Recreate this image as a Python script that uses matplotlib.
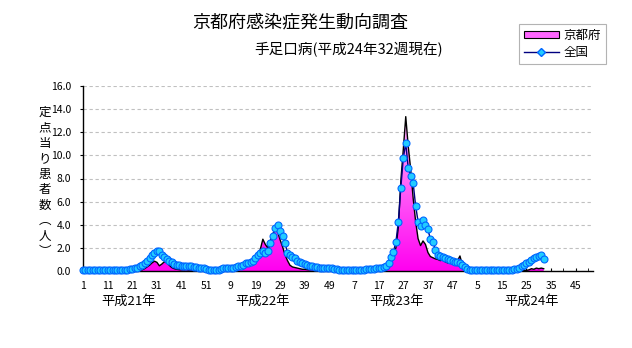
import numpy as np
import matplotlib.pyplot as plt
from matplotlib.colors import LinearSegmentedColormap
from matplotlib.lines import Line2D
from matplotlib.patches import Patch
from matplotlib.transforms import blended_transform_factory

# 京都府 (weekly, per sentinel)
kyoto_h21 = [0.02, 0.03, 0.02, 0.0, 0.03, 0.0, 0.02, 0.0, 0.0, 0.03, 0.02, 0.0, 0.03,
             0.05, 0.03, 0.02, 0.05, 0.03, 0.05, 0.05, 0.03, 0.05, 0.08, 0.1,
             0.1, 0.2, 0.35, 0.5, 0.7, 0.85, 0.75, 0.45, 0.6, 0.8, 0.7, 0.5, 0.3, 0.2, 0.15, 0.12,
             0.1, 0.1, 0.12, 0.08, 0.1, 0.1, 0.08, 0.1, 0.05, 0.08, 0.05, 0.05]
kyoto_h22 = [0.05, 0.03, 0.05, 0.05, 0.08, 0.05,
             0.1, 0.15, 0.2, 0.25, 0.3, 0.35, 0.4, 0.5, 0.6, 0.7, 0.75,
             0.8, 1.0, 1.3, 1.9, 2.75, 2.3, 2.0, 2.6, 3.2, 3.6, 3.4, 2.7, 2.1, 1.4, 0.9,
             0.5, 0.35, 0.3, 0.25, 0.2, 0.15, 0.15, 0.12, 0.1, 0.12, 0.1, 0.1, 0.08, 0.1,
             0.08, 0.05, 0.05, 0.05, 0.03, 0.05]
kyoto_h23 = [0.05, 0.03, 0.05, 0.03, 0.05, 0.05, 0.03, 0.05, 0.05, 0.08, 0.05, 0.08,
             0.05, 0.1, 0.08, 0.1,
             0.15, 0.2, 0.3, 0.4, 0.5, 0.9, 1.4, 2.0,
             3.8, 7.8, 10.5, 13.35, 10.8, 8.8, 6.3, 4.3, 2.8, 2.2,
             2.6, 2.3, 1.6, 1.25, 1.15, 1.05, 1.0, 0.9, 0.95, 0.8,
             0.7, 0.75, 0.6, 0.7, 0.9, 1.3, 0.5, 0.15]
kyoto_h24 = [0.1, 0.05, 0.03, 0.02, 0.0, 0.02, 0.0, 0.0, 0.02, 0.0, 0.0, 0.0, 0.02,
             0.0, 0.0, 0.0, 0.02, 0.0, 0.0, 0.0, 0.02, 0.0, 0.02, 0.05, 0.05,
             0.1, 0.2, 0.15, 0.25, 0.2, 0.25, 0.2]

# 全国
zenkoku_h21 = [0.08, 0.07, 0.06, 0.05, 0.05, 0.05, 0.05, 0.05, 0.05, 0.05, 0.05, 0.06,
               0.06, 0.07, 0.07, 0.08, 0.09, 0.1,
               0.12, 0.15, 0.2, 0.25, 0.3, 0.4, 0.5, 0.7, 0.9, 1.15,
               1.4, 1.6, 1.72, 1.75, 1.4, 1.2, 1.05, 0.9, 0.75, 0.6,
               0.55, 0.5, 0.45, 0.45, 0.4, 0.4, 0.4, 0.35, 0.35, 0.3,
               0.3, 0.25, 0.2, 0.1]
zenkoku_h22 = [0.08, 0.08, 0.1, 0.12,
               0.2, 0.22, 0.25, 0.25, 0.28,
               0.3, 0.35, 0.4, 0.45,
               0.55, 0.65, 0.7, 0.8, 0.9,
               1.15, 1.4, 1.55, 1.75, 1.6, 1.7,
               2.4, 3.05, 3.7, 4.0, 3.5, 3.0, 2.4, 1.6,
               1.4, 1.25, 1.1, 0.9, 0.8, 0.7, 0.6, 0.5,
               0.45, 0.4, 0.38, 0.35, 0.3, 0.3, 0.28, 0.25, 0.25, 0.22, 0.2, 0.15]
zenkoku_h23 = [0.12, 0.1, 0.1, 0.08, 0.08, 0.08, 0.1, 0.1, 0.1, 0.12, 0.12, 0.15, 0.15, 0.18,
               0.2, 0.22, 0.25, 0.3, 0.35, 0.45,
               0.7, 1.24, 1.67, 2.5, 4.27, 7.2, 9.75, 11.05, 8.9, 8.2, 7.6, 5.65,
               4.27, 3.9, 4.4, 4.0, 3.6, 2.75, 2.5, 1.85, 1.4,
               1.3, 1.2, 1.1, 1.0, 0.95, 0.9, 0.8, 0.75, 0.65, 0.5, 0.37]
zenkoku_h24 = [0.17, 0.12, 0.1, 0.1, 0.09, 0.1, 0.1, 0.09, 0.1, 0.1, 0.09, 0.1, 0.1,
               0.1, 0.09, 0.1, 0.1, 0.12, 0.12,
               0.15, 0.2, 0.3, 0.4, 0.5, 0.65, 0.8, 0.95, 1.1, 1.2, 1.3, 1.35, 1.05]

week_labels = ['1', '11', '21', '31', '41', '51', '9', '19', '29', '39', '49',
               '7', '17', '27', '37', '47', '5', '15', '25', '35', '45']
year_labels = ['平成21年', '平成22年', '平成23年', '平成24年']
n_weeks = 208

plt.rcParams['font.family'] = ['Noto Sans CJK JP', 'DejaVu Sans']

kyoto = np.array(kyoto_h21 + kyoto_h22 + kyoto_h23 + kyoto_h24)
zenkoku = np.array(zenkoku_h21 + zenkoku_h22 + zenkoku_h23 + zenkoku_h24)
x = np.arange(1, len(kyoto) + 1)

fig = plt.figure(figsize=(6.32, 3.48), dpi=100)
ax = fig.add_axes([83 / 632, 1 - 271 / 348, 510 / 632, 185 / 348])

# pink gradient area for Kyoto
fill = ax.fill_between(x, kyoto, 0, facecolor='none', edgecolor='none', zorder=2)
grad = np.linspace(0, 1, 256).reshape(-1, 1)
cmap = LinearSegmentedColormap.from_list('kpink', ['#FF00F0', '#FFB4FF'])
img = ax.imshow(grad, extent=[1, n_weeks, 0, kyoto.max()], origin='lower',
                aspect='auto', cmap=cmap, zorder=2)
img.set_clip_path(fill.get_paths()[0], transform=ax.transData)
ax.plot(x, kyoto, color='black', lw=1, zorder=3)

ax.plot(x, zenkoku, color='#000080', lw=1, marker='o', ms=5,
        mfc='#22CCFF', mec='#0066FF', mew=0.8, zorder=4, clip_on=False)

ax.set_xlim(1, n_weeks)
ax.set_ylim(0, 16)

ax.set_yticks(np.arange(0, 17, 2))
ax.set_yticklabels([f'{v:.1f}' for v in np.arange(0, 17, 2)])
ax.yaxis.grid(True, ls=(0, (3, 2.4)), color='#C0C0C0', lw=0.8)
ax.set_axisbelow(True)

label_pos = np.arange(1, n_weeks + 1, 10)[:len(week_labels)]
ax.set_xticks(label_pos)
ax.set_xticklabels(week_labels)
ax.set_xticks(label_pos + 5, minor=True)

for s in ['top', 'right']:
    ax.spines[s].set_visible(False)
for s in ['left', 'bottom']:
    ax.spines[s].set_color('black')
    ax.spines[s].set_linewidth(1)

ax.tick_params(axis='y', direction='out', length=2.5, labelsize=7.5, pad=6)
ax.tick_params(axis='x', which='both', direction='in', length=2.5, labelsize=7.5, pad=7)

trans = blended_transform_factory(ax.transData, fig.transFigure)
year_pos = [19.7, 74, 128.4, 183.2]
for p, t in zip(year_pos, year_labels):
    ax.text(p, 1 - 301 / 348, t, transform=trans, ha='center', va='center', fontsize=9.5)

fig.text(300 / 632, 1 - 22 / 348, '京都府感染症発生動向調査', ha='center', va='center', fontsize=13)
fig.text(349 / 632, 1 - 50 / 348, '手足口病(平成24年32週現在)', ha='center', va='center', fontsize=10.5)
fig.text(45 / 632, 1 - 182 / 348, '定\n点\n当\nり\n患\n者\n数\n︵\n人\n︶',
         ha='center', va='center', fontsize=9, linespacing=1.25)

handles = [Patch(facecolor='#FF66FF', edgecolor='black', lw=0.8),
           Line2D([0], [0], color='#000080', lw=1, marker='D', ms=4,
                  mfc='#22CCFF', mec='#0066FF')]
leg = fig.legend(handles, ['京都府', '全国'], loc='upper right',
                 bbox_to_anchor=(606 / 632, 1 - 24 / 348), fontsize=9,
                 frameon=True, fancybox=False, edgecolor='#A0A0A0',
                 handlelength=2.8, handleheight=0.55, handletextpad=0.4,
                 borderpad=0.4, labelspacing=0.35, borderaxespad=0)
leg.get_frame().set_linewidth(0.8)

fig.savefig('out.png', dpi=100)
